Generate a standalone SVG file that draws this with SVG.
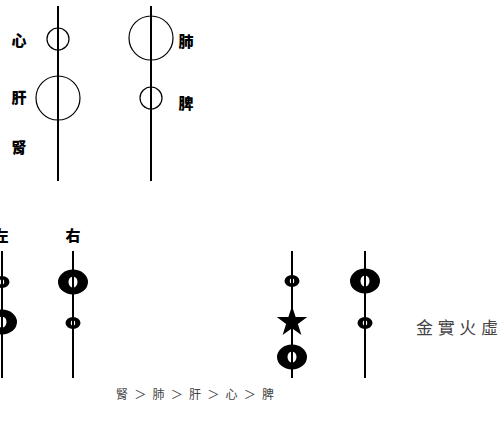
<svg xmlns="http://www.w3.org/2000/svg" xmlns:xlink="http://www.w3.org/1999/xlink" width="501" height="432" viewBox="0 0 501 432">
<style>
.ax{stroke:#000;stroke-width:2;fill:none}
.c{stroke:#000;stroke-width:1.2;fill:none}
.lb{font-family:"Noto Sans CJK TC","Noto Sans CJK SC",sans-serif;font-weight:900;font-size:15px;fill:#000}
.note{font-family:"Liberation Serif","Noto Sans CJK TC",serif;fill:#444}
</style>
<defs>
<path id="bigRing" fill-rule="evenodd" fill="#000" d="M-15,0 a15,12.5 0 1,0 30,0 a15,12.5 0 1,0 -30,0 Z M-4.5,0 a4.5,5.5 0 1,0 9,0 a4.5,5.5 0 1,0 -9,0 Z"/>
<path id="smallRing" fill-rule="evenodd" fill="#000" d="M-7.5,0 a7.5,6 0 1,0 15,0 a7.5,6 0 1,0 -15,0 Z M-2.2,0 a2.2,2.8 0 1,0 4.4,0 a2.2,2.8 0 1,0 -4.4,0 Z"/>
</defs>
<g id="connectors">
<line class="ax" x1="58" y1="6" x2="58" y2="181"/>
<line class="ax" x1="151" y1="6" x2="151" y2="181"/>
<line class="ax" x1="2" y1="251" x2="2" y2="378"/>
<line class="ax" x1="73" y1="251" x2="73" y2="378"/>
<line class="ax" x1="292" y1="251" x2="292" y2="378"/>
<line class="ax" x1="365" y1="251" x2="365" y2="378"/>
</g>
<g id="heart"><circle class="c" cx="58" cy="39" r="11"/><text class="lb" x="19" y="46" text-anchor="middle">心</text></g>
<g id="liver"><circle class="c" cx="58" cy="98" r="22"/><text class="lb" x="19" y="103" text-anchor="middle">肝</text></g>
<g id="kidney"><text class="lb" x="19" y="153" text-anchor="middle">腎</text></g>
<g id="lung"><circle class="c" cx="151" cy="38" r="22"/><text class="lb" x="186" y="47" text-anchor="middle">肺</text></g>
<g id="spleen"><circle class="c" cx="151" cy="98" r="11"/><text class="lb" x="186" y="109" text-anchor="middle">脾</text></g>
<g id="left-col"><text class="lb" x="1" y="241" text-anchor="middle">左</text><use xlink:href="#smallRing" x="2" y="282"/><use xlink:href="#bigRing" x="2" y="322"/></g>
<g id="right-col"><text class="lb" x="73" y="241" text-anchor="middle">右</text><use xlink:href="#bigRing" x="73" y="282"/><use xlink:href="#smallRing" x="73" y="323"/></g>
<g id="col3"><use xlink:href="#smallRing" x="292" y="281"/><polygon fill="#000" points="292,306 295.65,316.98 307.22,317.06 297.9,323.92 301.4,334.94 292,328.2 282.6,334.94 286.1,323.92 276.78,317.06 288.35,316.98"/><use xlink:href="#bigRing" x="292" y="357"/></g>
<g id="col4"><use xlink:href="#bigRing" x="365" y="281"/><use xlink:href="#smallRing" x="365" y="323"/></g>
<g id="label-jin"><text class="note" x="416" y="334" font-size="17" textLength="82" lengthAdjust="spacing">金實火虛</text></g>
<g id="order"><text class="note" x="116" y="399" font-size="12" textLength="158" lengthAdjust="spacing">腎＞肺＞肝＞心＞脾</text></g>
</svg>
